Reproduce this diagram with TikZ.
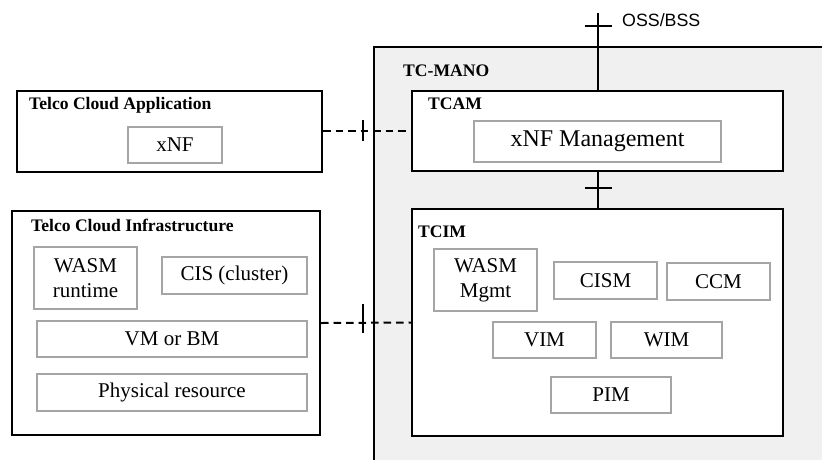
\documentclass[tikz,border=0pt]{standalone}
\usepackage{fontspec}
\setmainfont{Liberation Serif}
\newfontfamily\ossfont{Liberation Sans}
\definecolor{manobg}{RGB}{240,240,240}
\definecolor{boxgray}{RGB}{165,165,165}
\begin{document}
\begin{tikzpicture}[x=1pt,y=-1pt,
  outer/.style={draw=black,line width=2pt,fill=white,rectangle,inner sep=0pt},
  inner/.style={draw=boxgray,line width=1.6pt,fill=white,rectangle,inner sep=0pt,align=center,
    font=\fontsize{21}{25}\selectfont},
  title/.style={anchor=west,inner sep=0pt,font=\fontsize{17.6}{20}\selectfont\bfseries},
  conn/.style={line width=2pt},
  dconn/.style={line width=2pt,dash pattern=on 7.5pt off 5pt},
  tickmark/.style={line width=2pt}]
\useasboundingbox (0,0) rectangle (822,459);
\fill[white] (0,0) rectangle (822,459);
\clip (0,0) rectangle (822,459);
% TC-MANO
\node[outer,fill=manobg,minimum width=456pt,minimum height=423pt] (mano) at (602,258.5) {};
\node[title] (manol) at (403,71) {TC-MANO};
% TCAM
\node[outer,minimum width=371pt,minimum height=80pt] (tcam) at (597.5,131) {};
\node[title] (tcaml) at (428,104) {TCAM};
\node[inner,minimum width=247pt,minimum height=41pt,font=\fontsize{24}{28}\selectfont] (xnfm) at (597.5,141.5) {xNF Management};
% TCIM
\node[outer,minimum width=371pt,minimum height=227pt] (tcim) at (597.5,322.5) {};
\node[title] (tciml) at (418,232) {TCIM};
\node[inner,minimum width=103pt,minimum height=62pt] (wasmm) at (485.5,280) {WASM\\Mgmt};
\node[inner,minimum width=103pt,minimum height=37pt] (cism) at (605.5,280.5) {CISM};
\node[inner,minimum width=103pt,minimum height=37pt] (ccm) at (718.5,281.5) {CCM};
\node[inner,minimum width=103pt,minimum height=36pt] (vim) at (544.5,340) {VIM};
\node[inner,minimum width=111pt,minimum height=36pt] (wim) at (666.5,340) {WIM};
\node[inner,minimum width=120pt,minimum height=36pt] (pim) at (611,395) {PIM};
% Telco Cloud Application
\node[outer,minimum width=305pt,minimum height=81pt] (tca) at (169.5,131) {};
\node[title] (tcal) at (29,105) {Telco Cloud Application};
\node[inner,minimum width=94pt,minimum height=36pt] (xnf) at (175,145) {xNF};
% Telco Cloud Infrastructure
\node[outer,minimum width=308pt,minimum height=224pt] (tci) at (166,323) {};
\node[title] (tcil) at (31,225) {Telco Cloud Infrastructure};
\node[inner,minimum width=103pt,minimum height=62pt] (wasmr) at (85.5,278) {WASM\\runtime};
\node[inner,minimum width=145pt,minimum height=37pt] (cis) at (234.5,275.5) {CIS (cluster)};
\node[inner,minimum width=270pt,minimum height=36pt] (vmbm) at (172,339) {VM or BM};
\node[inner,minimum width=270pt,minimum height=37pt] (phys) at (172,392.5) {Physical resource};
% OSS/BSS
\coordinate (oss) at (597.5,13);
\node[anchor=west,inner sep=0pt,font=\ossfont\fontsize{17.8}{20}\selectfont] (ossl) at (622,20.5) {OSS/BSS};
% connectors
\draw[conn] (oss) -- (tcam.north);
\draw[conn] (tcam.south) -- (tcim.north);
\draw[dconn] (tca.east) -- (tcam.west);
\draw[dconn] (tci.east) -- (tcim.west);
% ticks
\coordinate (t1) at (362.5,131);
\coordinate (t2) at (362.5,323);
\coordinate (t3) at (597.5,26);
\coordinate (t4) at (597.5,188);
\draw[tickmark] ([yshift=-10pt]t1) -- ([yshift=11pt]t1);
\draw[tickmark] ([yshift=-10pt]t2) -- ([yshift=19pt]t2);
\draw[tickmark] ([xshift=-13pt]t3) -- ([xshift=14pt]t3);
\draw[tickmark] ([xshift=-13pt]t4) -- ([xshift=14pt]t4);
\end{tikzpicture}
\end{document}
